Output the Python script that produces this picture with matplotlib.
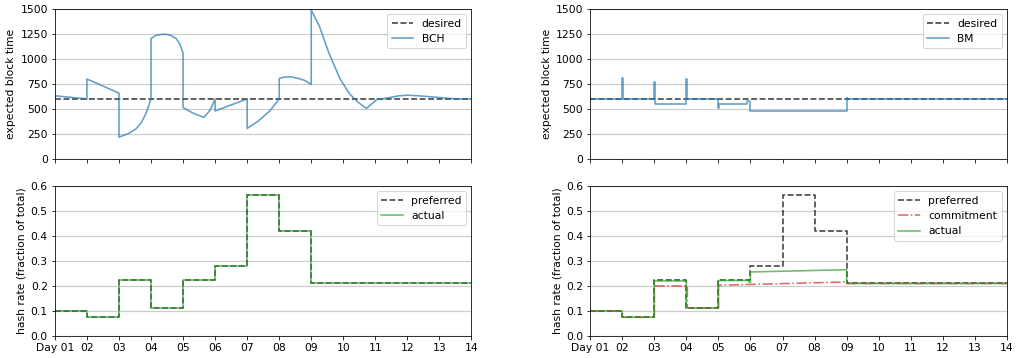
import matplotlib
matplotlib.use("Agg")
import matplotlib.pyplot as plt

plt.rcParams["font.size"] = 10.7
plt.rcParams["lines.linewidth"] = 1.6

# x axis: days
days = list(range(1, 15))
day_labels = ["Day 01"] + [f"{d:02d}" for d in range(2, 15)]

desired_time = 600

# expected block time, BCH difficulty adjustment
bch_x = [1.0, 2.0, 2.0, 3.0, 3.0, 3.3, 3.53, 3.7, 3.85, 4.0, 4.0, 4.15, 4.3, 4.45,
         4.6, 4.78, 4.9, 5.0, 5.0, 5.3, 5.65, 5.85, 6.0, 6.0, 7.0, 7.0, 7.35, 7.7,
         8.0, 8.0, 8.15, 8.35, 8.6, 8.8, 9.0, 9.0, 9.25, 9.55, 9.9, 10.2, 10.45,
         10.72, 11.05, 11.35, 11.7, 12.0, 12.4, 12.8, 13.2, 13.6, 14.0]
bch_y = [632, 600, 800, 658, 218, 255, 300, 365, 460, 600, 1205, 1235, 1245, 1247,
         1238, 1206, 1150, 1060, 515, 460, 415, 490, 600, 480, 600, 305, 380, 478,
         600, 805, 818, 822, 805, 785, 745, 1490, 1330, 1060, 800, 650, 570,
         505, 595, 608, 630, 638, 630, 620, 608, 600, 600]

# expected block time, BM
bm_x = [1, 2, 2, 2.02, 2.02, 3, 3, 3.02, 3.02, 4, 4, 4.02, 4.02, 5, 5, 5.02, 5.02,
        5.88, 5.88, 5.98, 5.98, 9, 9, 9.02, 9.02, 14]
bm_y = [600, 600, 805, 805, 600, 600, 770, 770, 545, 545, 800, 800, 600, 600, 507,
        507, 545, 545, 575, 575, 482, 482, 612, 612, 600, 600]

# hash rate (per day interval)
preferred = [0.1, 0.075, 0.225, 0.1125, 0.225, 0.28, 0.5625, 0.42,
             0.21, 0.21, 0.21, 0.21, 0.21]
bch_actual = [0.1, 0.075, 0.225, 0.1125, 0.225, 0.28, 0.5625, 0.42,
              0.21, 0.21, 0.21, 0.21, 0.21]

commit_x = [1, 2, 2, 3, 3, 4.03, 4.03, 5, 5, 9, 9, 14]
commit_y = [0.1, 0.1, 0.075, 0.075, 0.2, 0.2, 0.1125, 0.1125, 0.203, 0.216, 0.21, 0.21]

bm_act_x = [1, 2, 2, 3, 3, 4, 4, 5, 5, 5.95, 5.95, 6, 6, 9, 9, 14]
bm_act_y = [0.1, 0.1, 0.075, 0.075, 0.22, 0.22, 0.1125, 0.1125, 0.222, 0.222,
            0.215, 0.215, 0.256, 0.265, 0.21, 0.21]

fig, axes = plt.subplots(2, 2, figsize=(1016 / 72, 358 / 72), dpi=72)
fig.subplots_adjust(left=0.054, right=0.991, bottom=0.0615, top=0.975,
                    wspace=0.285, hspace=0.18)

blue = "tab:blue"
green = "tab:green"
red = "tab:red"

for ax, name, xs, ys in [(axes[0, 0], "BCH", bch_x, bch_y),
                         (axes[0, 1], "BM", bm_x, bm_y)]:
    ax.axhline(desired_time, color="k", ls="--", alpha=0.75, label="desired")
    ax.plot(xs, ys, color=blue, alpha=0.7, label=name)
    ax.set_ylim(0, 1500)
    ax.set_yticks(range(0, 1501, 250))
    ax.set_ylabel("expected block time")

ax = axes[1, 0]
ax.step(days, preferred + preferred[-1:], where="post", color="k", ls="--",
        alpha=0.75, label="preferred")
ax.step(days, bch_actual + bch_actual[-1:], where="post", color=green,
        alpha=0.7, label="actual")

ax = axes[1, 1]
ax.step(days, preferred + preferred[-1:], where="post", color="k", ls="--",
        alpha=0.75, label="preferred")
ax.plot(commit_x, commit_y, color=red, ls="-.", alpha=0.7, label="commitment")
ax.plot(bm_act_x, bm_act_y, color=green, alpha=0.7, label="actual")

for ax in axes[1]:
    ax.set_ylim(0, 0.6)
    ax.set_ylabel("hash rate (fraction of total)")

for row in axes:
    for ax in row:
        ax.set_xlim(1, 14)
        ax.set_xticks(days)
        ax.grid(axis="y", color="0.8", linewidth=1.2)
        ax.legend(loc="upper right")

for ax in axes[0]:
    ax.set_xticklabels([])
for ax in axes[1]:
    ax.set_xticklabels(day_labels)

fig.savefig("out.png", dpi=72)
